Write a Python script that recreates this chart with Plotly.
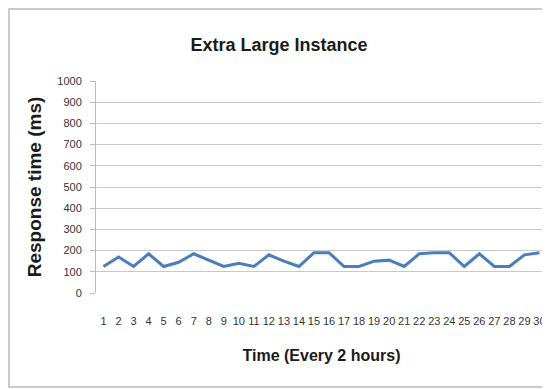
import plotly.graph_objects as go

time_labels = [str(i) for i in range(1, 31)]
response_ms = [125, 170, 125, 185, 125, 145, 185, 155, 125, 140,
               125, 180, 150, 125, 190, 190, 125, 125, 150, 155,
               125, 185, 190, 190, 125, 185, 125, 125, 180, 190]
y_ticks = list(range(0, 1001, 100))

fig = go.Figure()
fig.add_trace(go.Scatter(x=time_labels, y=response_ms, mode="lines",
                         line=dict(color="#4a7ebb", width=3)))

font_family = "Liberation Sans, Arial, sans-serif"
W, H = 542, 381
L, R, T, B = 88, 3, 73, 96
pw, ph = W - L - R, H - T - B
fig.update_layout(
    width=W, height=H,
    paper_bgcolor="white", plot_bgcolor="white",
    margin=dict(l=L, r=R, t=T, b=B),
    showlegend=False,
    title=dict(text="<b>Extra Large Instance</b>", x=0.5, xanchor="center",
               y=1 - 37 / H, yanchor="middle",
               font=dict(family=font_family, size=18, color="#1a1a1a")),
    font=dict(family=font_family, color="#333"),
    shapes=[dict(type="rect", xref="paper", yref="paper", layer="below",
                 x0=-(L - 1) / pw, x1=1 + (R - 1) / pw,
                 y0=-(B - 2) / ph, y1=1 + (T - 1) / ph,
                 line=dict(color="#bbbbbb", width=1.5))],
)
fig.update_xaxes(type="category", tickvals=time_labels, ticktext=time_labels,
                 range=[-0.5, len(time_labels) - 0.5], tickangle=0,
                 tickfont=dict(size=11), showgrid=False, showline=False,
                 ticks="", ticklabelstandoff=20,
                 title=dict(text="<b>Time (Every 2 hours)</b>",
                            font=dict(size=16, color="#1a1a1a"), standoff=23))
fig.update_yaxes(range=[0, 1000], tickvals=y_ticks, tickfont=dict(size=11),
                 showgrid=True, gridcolor="#c8c8c8", gridwidth=1,
                 showline=True, linecolor="#bbbbbb", ticks="outside",
                 ticklen=5, tickcolor="#bbbbbb", zeroline=False,
                 ticklabelstandoff=6,
                 title=dict(text="<b>Response time (ms)</b>",
                            font=dict(size=19, color="#1a1a1a"), standoff=10))

fig.write_html("out.html")
